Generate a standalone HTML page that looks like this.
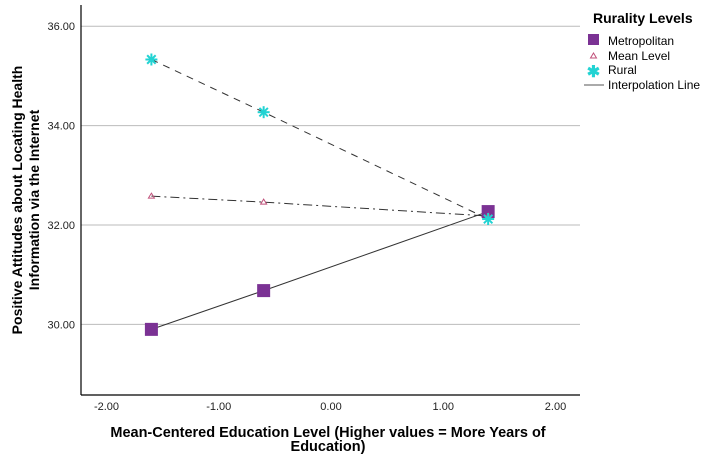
<!DOCTYPE html>
<html><head><meta charset="utf-8"><style>
body{margin:0;background:#fff;font-family:"Liberation Sans",sans-serif}
</style></head><body>
<svg width="714" height="457" xmlns="http://www.w3.org/2000/svg">
<g id="grid"></g>
<g id="yt"></g>
<g id="xt"></g>
<line x1="81" y1="5" x2="81" y2="395" stroke="#000" stroke-width="1.2"/>
<line x1="81" y1="395" x2="580" y2="395" stroke="#000" stroke-width="1.2"/>
<g id="series"></g>
<text transform="translate(22,200) rotate(-90)" text-anchor="middle" font-weight="bold" font-size="14"><tspan x="0" y="0">Positive Attitudes about Locating Health</tspan><tspan x="0" y="17">Information via the Internet</tspan></text>
<text x="328" y="437" text-anchor="middle" font-weight="bold" font-size="14.5">Mean-Centered Education Level (Higher values = More Years of</text>
<text x="328" y="451" text-anchor="middle" font-weight="bold" font-size="14.5">Education)</text>
<g>
<text x="593" y="23" font-weight="bold" font-size="14">Rurality Levels</text>
<rect x="588" y="34" width="11" height="11" fill="#7b3294"/>
<text x="608" y="45" font-size="12">Metropolitan</text>
<path d="M593.5,53 L596.5,58 L590.5,58 Z" fill="none" stroke="#c0507a" stroke-width="1"/>
<text x="608" y="60" font-size="12">Mean Level</text>
<text x="593.5" y="77" text-anchor="middle" font-size="16" fill="#22d3d3" font-weight="bold">✱</text>
<text x="608" y="74" font-size="12">Rural</text>
<line x1="584" y1="85" x2="604" y2="85" stroke="#555"/>
<text x="608" y="89" font-size="12">Interpolation Line</text>
</g>
</svg>
<script>
const xValues=[-1.6,-0.6,1.4];
const metro=[29.9,30.68,32.27];
const meanLevel=[32.58,32.46,32.18];
const rural=[35.33,34.27,32.12];
const yTicks=[30,32,34,36];
const yTickLabels=["30.00","32.00","34.00","36.00"];
const xTicks=[-2,-1,0,1,2];
const xTickLabels=["-2.00","-1.00","0.00","1.00","2.00"];
const NS="http://www.w3.org/2000/svg";
const X=v=>331+v*112.25;
const Y=v=>225-(v-32)*49.7;
function mk(t,a,p){const e=document.createElementNS(NS,t);for(const k in a)e.setAttribute(k,a[k]);p.appendChild(e);return e;}
const grid=document.getElementById('grid'),yt=document.getElementById('yt'),xt=document.getElementById('xt'),s=document.getElementById('series');
yTicks.forEach((v,i)=>{
 const l=mk('line',{x1:81,x2:580,y1:Y(v),y2:Y(v),stroke:'#bbb','stroke-width':1},grid);
 
 
 const t=mk('text',{x:75,y:Y(v)+4,'text-anchor':'end','font-size':11,fill:'#222'},yt);t.textContent=yTickLabels[i];
 
 
});
xTicks.forEach((v,i)=>{
 const t=mk('text',{x:X(v),y:410,'text-anchor':'middle','font-size':11,fill:'#222'},xt);t.textContent=xTickLabels[i];
 
 
});
function line(vals,dash,name){
 const pts=xValues.map((x,i)=>X(x)+','+Y(vals[i])).join(' ');
 const p=mk('polyline',{points:pts,fill:'none',stroke:'#333','stroke-width':1,'stroke-dasharray':dash},s);
 
 
}
line(rural,'7,6','rural-line');
line(meanLevel,'9,4,2,4','mean-level-line');
line(metro,'none','metropolitan-line');
metro.forEach((v,i)=>{
 const r=mk('rect',{x:X(xValues[i])-6.5,y:Y(v)-6.5,width:13,height:13,fill:'#7b3294'},s);
 
 
});
meanLevel.forEach((v,i)=>{
 const x=X(xValues[i]),y=Y(v);
 const p=mk('path',{d:`M${x},${y-3} L${x+3},${y+2} L${x-3},${y+2} Z`,fill:'none',stroke:'#c0507a','stroke-width':1},s);
 
 
});
rural.forEach((v,i)=>{
 const x=X(xValues[i]),y=Y(v);
 const g=mk('g',{stroke:'#22d3d3','stroke-width':2},s);
 
 
 for(let k=0;k<4;k++){const a=k*Math.PI/4;mk('line',{x1:x-6*Math.cos(a),y1:y-6*Math.sin(a),x2:x+6*Math.cos(a),y2:y+6*Math.sin(a)},g);}
});
</script>
</body></html>
